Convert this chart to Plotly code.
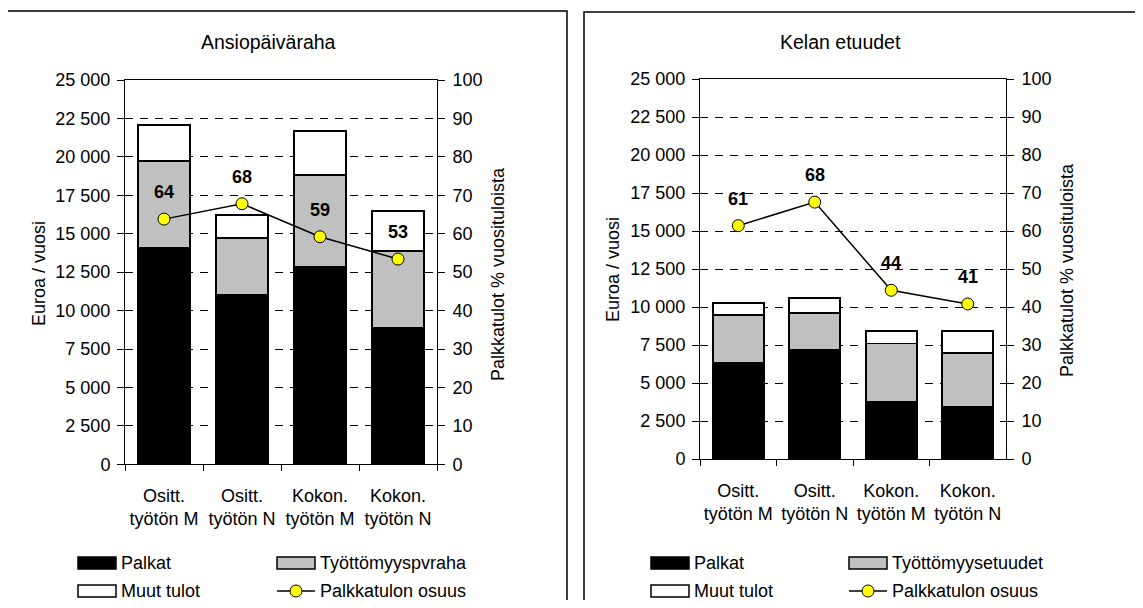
import plotly.graph_objects as go

# ---------------- data ----------------
categories = ["Ositt.<br>työtön M", "Ositt.<br>työtön N", "Kokon.<br>työtön M", "Kokon.<br>työtön N"]

left_title = "Ansiopäiväraha"
left_palkat = [14100, 11000, 12850, 8900]
left_benefit = [5650, 3700, 5950, 5000]
left_muut = [2320, 1500, 2900, 2600]
left_share = [63.8, 67.8, 59.2, 53.4]
left_benefit_name = "Työttömyyspvraha"

right_title = "Kelan etuudet"
right_palkat = [6350, 7150, 3750, 3450]
right_benefit = [3100, 2450, 3850, 3550]
right_muut = [800, 1000, 800, 1400]
right_share = [61.4, 67.6, 44.4, 40.8]
right_benefit_name = "Työttömyysetuudet"

name_palkat = "Palkat"
name_muut = "Muut tulot"
name_share = "Palkkatulon osuus"

y_ticks = [0, 2500, 5000, 7500, 10000, 12500, 15000, 17500, 20000, 22500, 25000]
y2_ticks = [0, 10, 20, 30, 40, 50, 60, 70, 80, 90, 100]
y_title = "Euroa / vuosi"
y2_title = "Palkkatulot % vuosituloista"

# ---------------- layout helpers ----------------
OFF = 8                      # page body margin
W, H = 1143 - 2 * OFF, 608 - 2 * OFF
FONT = "Liberation Sans, Arial, sans-serif"
FS = 18
FS_TITLE = 19.5


def px(x):
    return (x - OFF) / W


def py(y):
    return 1 - (y - OFF) / H


COL_BLACK = "#000000"
COL_GRAY = "#c0c0c0"
COL_WHITE = "#ffffff"
COL_YELLOW = "#ffff00"

fig = go.Figure()

panels = [
    dict(xa="x", ya="y", ya2="y2", palkat=left_palkat, benefit=left_benefit, muut=left_muut,
         share=left_share, bname=left_benefit_name),
    dict(xa="x2", ya="y3", ya2="y4", palkat=right_palkat, benefit=right_benefit, muut=right_muut,
         share=right_share, bname=right_benefit_name),
]

for p in panels:
    for vals, nm, col in [(p["palkat"], name_palkat, COL_BLACK),
                          (p["benefit"], p["bname"], COL_GRAY),
                          (p["muut"], name_muut, COL_WHITE)]:
        fig.add_trace(go.Bar(
            x=categories, y=vals, name=nm, xaxis=p["xa"], yaxis=p["ya"],
            marker=dict(color=col, line=dict(color=COL_BLACK, width=1.8)),
            showlegend=False,
        ))
    fig.add_trace(go.Scatter(
        x=categories, y=p["share"], name=name_share, xaxis=p["xa"], yaxis=p["ya2"],
        mode="lines+markers",
        line=dict(color=COL_BLACK, width=1.5),
        marker=dict(color=COL_YELLOW, size=12, line=dict(color=COL_BLACK, width=1)),
        showlegend=False,
    ))

annotations = []
for p in panels:
    for c, v in zip(categories, p["share"]):
        annotations.append(dict(
            x=c, y=v, xref=p["xa"], yref=p["ya2"], text=f"<b>{round(v)}</b>",
            showarrow=False, yshift=27, font=dict(family=FONT, size=FS, color="black"),
        ))

common_x = dict(type="category", showline=True, linecolor="black", linewidth=1, mirror=True,
                ticks="outside", tickson="boundaries", ticklen=6, tickcolor="black", tickangle=0,
                ticklabelstandoff=15,
                showgrid=False, tickfont=dict(family=FONT, size=FS, color="black"))
common_y = dict(range=[0, 25000], tickvals=y_ticks, tickformat=",", showline=True, linecolor="black",
                linewidth=1, ticks="outside", ticklen=7, tickcolor="black", ticklabelstandoff=3,
                showgrid=True, gridcolor="black", gridwidth=1, griddash="8px,7px", zeroline=False,
                tickfont=dict(family=FONT, size=FS, color="black"))
common_y2 = dict(range=[0, 100], tickvals=y2_ticks, showline=True, linecolor="black", linewidth=1,
                 ticks="outside", ticklen=7, tickcolor="black", showgrid=False, zeroline=False,
                 ticklabelstandoff=4,
                 side="right", tickfont=dict(family=FONT, size=FS, color="black"))

L = dict(x0=125, x1=437, y0=464.3, y1=80)
R = dict(x0=700, x1=1006, y0=459, y1=79)

layout = dict(
    width=W, height=H, margin=dict(l=0, r=0, t=0, b=0, autoexpand=False),
    paper_bgcolor="white", plot_bgcolor="white",
    barmode="stack", bargap=0.333, separators=", ",
    showlegend=False,
    font=dict(family=FONT, size=FS, color="black"),
    xaxis=dict(common_x, domain=[px(L["x0"]), px(L["x1"])], anchor="y"),
    yaxis=dict(common_y, domain=[py(L["y0"]), py(L["y1"])], anchor="x"),
    yaxis2=dict(common_y2, overlaying="y", anchor="x"),
    xaxis2=dict(common_x, domain=[px(R["x0"]), px(R["x1"])], anchor="y3"),
    yaxis3=dict(common_y, domain=[py(R["y0"]), py(R["y1"])], anchor="x2"),
    yaxis4=dict(common_y2, overlaying="y3", anchor="x2"),
)

shapes = []
# panel frames
for (x0, y0, x1, y1) in [(7, 11, 567, 640), (584, 12, 1160, 640)]:
    shapes.append(dict(type="rect", xref="paper", yref="paper", x0=px(x0), x1=px(x1), y0=py(y0), y1=py(y1),
                       line=dict(color="black", width=1.5), fillcolor="rgba(0,0,0,0)", layer="below"))

# titles
annotations.append(dict(x=px(268), y=py(42), xref="paper", yref="paper", text=left_title, showarrow=False,
                        font=dict(family=FONT, size=FS_TITLE), xanchor="center", yanchor="middle"))
annotations.append(dict(x=px(840), y=py(42), xref="paper", yref="paper", text=right_title, showarrow=False,
                        font=dict(family=FONT, size=FS_TITLE), xanchor="center", yanchor="middle"))
# axis titles
for xl, xr, yc in [(39, 498, 274), (613, 1067, 270)]:
    annotations.append(dict(x=px(xl), y=py(yc), xref="paper", yref="paper", text=y_title, showarrow=False,
                            textangle=-90, font=dict(family=FONT, size=FS), xanchor="center", yanchor="middle"))
    annotations.append(dict(x=px(xr), y=py(yc), xref="paper", yref="paper", text=y2_title, showarrow=False,
                            textangle=-90, font=dict(family=FONT, size=FS), xanchor="center", yanchor="middle"))

# manual legends
legend_specs = [
    (78, 277, left_benefit_name),
    (651, 849, right_benefit_name),
]
row1, row2 = 563, 591
for c1, c2, bname in legend_specs:
    items = [(c1, row1, name_palkat, COL_BLACK), (c2, row1, bname, COL_GRAY), (c1, row2, name_muut, COL_WHITE)]
    for sx, sy, nm, col in items:
        shapes.append(dict(type="rect", xref="paper", yref="paper", x0=px(sx), x1=px(sx + 38),
                           y0=py(sy - 6), y1=py(sy + 6), fillcolor=col, line=dict(color="black", width=1.5)))
        annotations.append(dict(x=px(sx + 41), y=py(sy), xref="paper", yref="paper", text=nm, showarrow=False,
                                xanchor="left", yanchor="middle", font=dict(family=FONT, size=FS)))
    # line + marker item
    shapes.append(dict(type="line", xref="paper", yref="paper", x0=px(c2), x1=px(c2 + 38), y0=py(row2), y1=py(row2),
                       line=dict(color="black", width=1.5)))
    shapes.append(dict(type="circle", xref="paper", yref="paper", x0=px(c2 + 13), x1=px(c2 + 25),
                       y0=py(row2 - 6), y1=py(row2 + 6), fillcolor=COL_YELLOW, line=dict(color="black", width=1)))
    annotations.append(dict(x=px(c2 + 41), y=py(row2), xref="paper", yref="paper", text=name_share, showarrow=False,
                            xanchor="left", yanchor="middle", font=dict(family=FONT, size=FS)))

layout["shapes"] = shapes
layout["annotations"] = annotations
fig.update_layout(**layout)
fig.write_html("out.html")
